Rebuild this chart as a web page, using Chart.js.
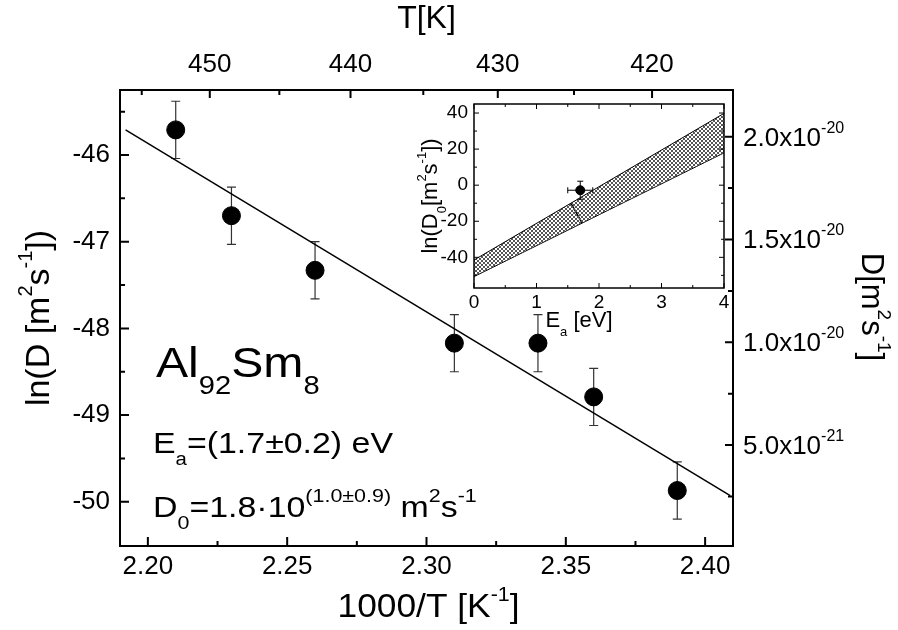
<!DOCTYPE html>
<html>
<head>
<meta charset="utf-8">
<script src="https://cdn.jsdelivr.net/npm/chart.js@4.4.0/dist/chart.umd.min.js"></script>
<style>
  html, body { margin: 0; padding: 0; background: #fff; }
  #wrap { position: relative; width: 898px; height: 630px; }
  #main { position: absolute; left: 0; top: 0; }
  #inset { position: absolute; left: 400px; top: 95px; }
</style>
</head>
<body>
<div id="wrap">
  <canvas id="main" width="898" height="630"></canvas>
  <canvas id="inset" width="335" height="250"></canvas>
</div>
<script>
// main plot: ln(D) vs 1000/T
const invT = [2.21, 2.23, 2.26, 2.31, 2.34, 2.36, 2.39];
const lnD = [-45.71, -46.70, -47.33, -48.17, -48.17, -48.79, -49.87];
const lnDErr = [0.33, 0.33, 0.33, 0.33, 0.33, 0.33, 0.33];
const fitX = [2.192, 2.409];
const fitY = [-45.71, -49.93];

const xTicks = [2.20, 2.25, 2.30, 2.35, 2.40];
const xMinor = [2.225, 2.275, 2.325, 2.375];
const yTicks = [-46, -47, -48, -49, -50];
const yMinor = [-45.5, -46.5, -47.5, -48.5, -49.5];
const topMajorT = [450, 440, 430, 420];
const topMinorT = [455, 445, 435, 425];
const rightTicks = [5, 10, 15, 20];        // units of 1e-21 m2/s
const rightMinor = [2.5, 7.5, 12.5, 17.5];

// inset: ln(D0) vs Ea
const bandX = [0, 4];
const bandUpper = [-41.5, 39.8];
const bandLower = [-50.7, 17.9];
const segX = [1.55, 1.73];
const segY = [-10.0, -21.0];
const insetEa = [1.7];
const insetLnD0 = [-2.8];
const insetEaErr = [0.2];
const insetLnD0Err = [5];
const insetXTicks = [0, 1, 2, 3, 4];
const insetXMinor = [0.5, 1.5, 2.5, 3.5];
const insetYTicks = [-40, -20, 0, 20, 40];
const insetYMinor = [-50, -30, -10, 10, 30];

const FAM = "'Liberation Sans', Arial, sans-serif";
Chart.defaults.font.family = FAM;
Chart.defaults.color = '#000';

const pts = function(xs, ys) {
  return xs.map((v, i) => ({ x: v, y: ys[i] }));
};

// text with sub/superscripts: parts = [[text, ''|'sup'|'sub'], ...]
const drawRich = function(ctx, parts, x, y, size, opts) {
  opts = opts || {};
  const small = Math.round(size * (opts.small || 0.6));
  const items = parts.map(p => {
    const kind = p[1] || '';
    const fs = kind ? small : size;
    ctx.font = fs + 'px ' + FAM;
    return { t: p[0], kind: kind, fs: fs, w: ctx.measureText(p[0]).width };
  });
  const total = items.reduce((a, b) => a + b.w, 0);
  ctx.save();
  ctx.translate(x, y);
  if (opts.rotate) ctx.rotate(opts.rotate);
  if (opts.sx) ctx.scale(opts.sx, 1);
  let cx = opts.align === 'center' ? -total / 2 : 0;
  const base = opts.vcenter ? size * 0.35 : 0;
  ctx.fillStyle = '#000';
  ctx.textAlign = 'left';
  ctx.textBaseline = 'alphabetic';
  items.forEach(it => {
    ctx.font = it.fs + 'px ' + FAM;
    let dy = 0;
    if (it.kind === 'sup') dy = -size * 0.5;
    if (it.kind === 'sub') dy = size * 0.4;
    ctx.fillText(it.t, cx, base + dy);
    cx += it.w;
  });
  ctx.restore();
};

// inward ticks along one side of the chart area
const sideTicks = function(ctx, area, side, pixels, len) {
  ctx.beginPath();
  pixels.forEach(p => {
    if (side === 'bottom') { ctx.moveTo(p, area.bottom); ctx.lineTo(p, area.bottom - len); }
    if (side === 'top') { ctx.moveTo(p, area.top); ctx.lineTo(p, area.top + len); }
    if (side === 'left') { ctx.moveTo(area.left, p); ctx.lineTo(area.left + len, p); }
    if (side === 'right') { ctx.moveTo(area.right, p); ctx.lineTo(area.right - len, p); }
  });
  ctx.stroke();
};

const fixSize = function(w, h) {
  return s => {
    if (w !== null) s.width = w;
    if (h !== null) s.height = h;
    s.paddingTop = 0; s.paddingBottom = 0; s.paddingLeft = 0; s.paddingRight = 0;
  };
};

const mainDecor = {
  id: 'mainDecor',
  beforeDatasetsDraw(chart) {
    const ctx = chart.ctx, x = chart.scales.x, y = chart.scales.y;
    ctx.save();
    ctx.strokeStyle = '#333';
    ctx.lineWidth = 1.2;
    ctx.beginPath();
    invT.forEach((t, i) => {
      const px = x.getPixelForValue(t);
      const top = y.getPixelForValue(lnD[i] + lnDErr[i]);
      const bot = y.getPixelForValue(lnD[i] - lnDErr[i]);
      ctx.moveTo(px, top); ctx.lineTo(px, bot);
      ctx.moveTo(px - 4.5, top); ctx.lineTo(px + 4.5, top);
      ctx.moveTo(px - 4.5, bot); ctx.lineTo(px + 4.5, bot);
    });
    ctx.stroke();
    ctx.restore();
  },
  afterDraw(chart) {
    const ctx = chart.ctx, a = chart.chartArea;
    const x = chart.scales.x, y = chart.scales.y, y1 = chart.scales.y1;
    ctx.save();
    ctx.strokeStyle = '#000';
    ctx.lineWidth = 2;
    ctx.strokeRect(a.left, a.top, a.right - a.left, a.bottom - a.top);
    sideTicks(ctx, a, 'bottom', xTicks.map(v => x.getPixelForValue(v)), 9);
    sideTicks(ctx, a, 'bottom', xMinor.map(v => x.getPixelForValue(v)), 5);
    sideTicks(ctx, a, 'top', topMajorT.map(t => x.getPixelForValue(1000 / t)), 8);
    sideTicks(ctx, a, 'top', topMinorT.map(t => x.getPixelForValue(1000 / t)), 5);
    sideTicks(ctx, a, 'left', yTicks.map(v => y.getPixelForValue(v)), 9);
    sideTicks(ctx, a, 'left', yMinor.map(v => y.getPixelForValue(v)), 5);
    sideTicks(ctx, a, 'right', rightTicks.map(v => y1.getPixelForValue(v)), 8);
    sideTicks(ctx, a, 'right', rightMinor.map(v => y1.getPixelForValue(v)), 5);

    // right axis labels, e.g. 2.0x10^-20
    y1.ticks.forEach(t => {
      const val = t.value * 1e-21;
      const ex = Math.floor(Math.log10(val) + 1e-9);
      const mant = val / Math.pow(10, ex);
      drawRich(ctx, [[mant.toFixed(1) + 'x10', ''], [String(ex), 'sup']],
        a.right + 10, y1.getPixelForValue(t.value) + 9, 26, { small: 0.6 });
    });

    // axis titles
    drawRich(ctx, [['ln(D [m', ''], ['2', 'sup'], ['s', ''], ['-1', 'sup'], ['])', '']],
      37, (a.top + a.bottom) / 2, 34, { align: 'center', rotate: -Math.PI / 2, vcenter: true });
    drawRich(ctx, [['1000/T [K', ''], ['-1', 'sup'], [']', '']],
      (a.left + a.right) / 2 + 2, 617, 33, { align: 'center', sx: 1.07 });
    drawRich(ctx, [['T[K]', '']], (a.left + a.right) / 2, 28, 32, { align: 'center' });
    drawRich(ctx, [['D[m', ''], ['2', 'sup'], ['s', ''], ['-1', 'sup'], [']', '']],
      873, 307, 31, { align: 'center', rotate: Math.PI / 2, vcenter: true });

    // annotations
    drawRich(ctx, [['Al', ''], ['92', 'sub'], ['Sm', ''], ['8', 'sub']], 156, 377, 43, { sx: 1.12 });
    drawRich(ctx, [['E', ''], ['a', 'sub'], ['=(1.7\u00b10.2) eV', '']], 153, 453, 30, { sx: 1.13 });
    drawRich(ctx, [['D', ''], ['0', 'sub'], ['=1.8\u00b710', ''], ['(1.0\u00b10.9)', 'sup'],
      [' m', ''], ['2', 'sup'], ['s', ''], ['-1', 'sup']], 153, 517, 30, { sx: 1.13, small: 0.63 });
    ctx.restore();
  }
};

const axisBase = {
  type: 'linear',
  grid: { display: false, drawTicks: false },
  border: { display: false },
};

new Chart(document.getElementById('main'), {
  type: 'scatter',
  data: {
    datasets: [
      {
        label: 'fit',
        type: 'line',
        data: pts(fitX, fitY),
        borderColor: '#000',
        borderWidth: 1.5,
        pointRadius: 0,
        fill: false,
      },
      {
        label: 'ln D',
        data: pts(invT, lnD),
        pointRadius: 9,
        pointHoverRadius: 9,
        backgroundColor: '#000',
        borderColor: '#000',
      },
    ],
  },
  options: {
    responsive: false,
    animation: false,
    events: [],
    layout: { padding: 0 },
    plugins: { legend: { display: false }, tooltip: { enabled: false } },
    scales: {
      x: Object.assign({}, axisBase, {
        position: 'bottom', min: 2.19, max: 2.41,
        ticks: { font: { size: 26 }, padding: 5, autoSkip: false, maxRotation: 0, callback: v => v.toFixed(2) },
        afterBuildTicks: s => { s.ticks = xTicks.map(v => ({ value: v })); },
        afterFit: fixSize(null, 84),
      }),
      xTop: Object.assign({}, axisBase, {
        position: 'top', min: 2.19, max: 2.41,
        ticks: { font: { size: 26 }, padding: 10, autoSkip: false, maxRotation: 0, callback: v => String(Math.round(1000 / v)) },
        afterBuildTicks: s => { s.ticks = topMajorT.map(t => ({ value: 1000 / t })); },
        afterFit: fixSize(null, 90),
      }),
      y: Object.assign({}, axisBase, {
        position: 'left', min: -50.51, max: -45.25,
        ticks: { font: { size: 26 }, padding: 10, autoSkip: false, callback: v => String(v) },
        afterBuildTicks: s => { s.ticks = yTicks.map(v => ({ value: v })); },
        afterFit: fixSize(120, null),
      }),
      y1: Object.assign({}, axisBase, {
        position: 'right', min: 0.093, max: 22.27,
        ticks: { display: false },
        afterBuildTicks: s => { s.ticks = rightTicks.map(v => ({ value: v })); },
        afterFit: fixSize(165, null),
      }),
    },
  },
  plugins: [mainDecor],
});

// ---- inset ----
const makeHatch = function(ctx) {
  const c = document.createElement('canvas');
  c.width = 4; c.height = 4;
  const g = c.getContext('2d');
  g.fillStyle = '#555';
  for (let i = 0; i < 4; i++) {
    g.fillRect(i, i, 1, 1);
    g.fillRect(i, 3 - i, 1, 1);
  }
  return ctx.createPattern(c, 'repeat');
};

const insetCanvas = document.getElementById('inset');
const hatch = makeHatch(insetCanvas.getContext('2d'));

const insetDecor = {
  id: 'insetDecor',
  afterDatasetsDraw(chart) {
    const ctx = chart.ctx, x = chart.scales.x, y = chart.scales.y;
    ctx.save();
    ctx.strokeStyle = '#000';
    ctx.lineWidth = 1;
    ctx.beginPath();
    insetEa.forEach((e, i) => {
      const px = x.getPixelForValue(e), py = y.getPixelForValue(insetLnD0[i]);
      const l = x.getPixelForValue(e - insetEaErr[i]), r = x.getPixelForValue(e + insetEaErr[i]);
      const t = y.getPixelForValue(insetLnD0[i] + insetLnD0Err[i]);
      const b = y.getPixelForValue(insetLnD0[i] - insetLnD0Err[i]);
      ctx.moveTo(l, py); ctx.lineTo(r, py);
      ctx.moveTo(l, py - 3); ctx.lineTo(l, py + 3);
      ctx.moveTo(r, py - 3); ctx.lineTo(r, py + 3);
      ctx.moveTo(px, t); ctx.lineTo(px, b);
      ctx.moveTo(px - 3, t); ctx.lineTo(px + 3, t);
      ctx.moveTo(px - 3, b); ctx.lineTo(px + 3, b);
    });
    ctx.stroke();
    ctx.restore();
  },
  afterDraw(chart) {
    const ctx = chart.ctx, a = chart.chartArea, x = chart.scales.x, y = chart.scales.y;
    ctx.save();
    ctx.strokeStyle = '#000';
    ctx.lineWidth = 1.5;
    ctx.strokeRect(a.left, a.top, a.right - a.left, a.bottom - a.top);
    ctx.lineWidth = 1;
    ['bottom', 'top'].forEach(s => {
      sideTicks(ctx, a, s, insetXTicks.map(v => x.getPixelForValue(v)), 5);
      sideTicks(ctx, a, s, insetXMinor.map(v => x.getPixelForValue(v)), 3);
    });
    ['left', 'right'].forEach(s => {
      sideTicks(ctx, a, s, insetYTicks.map(v => y.getPixelForValue(v)), 5);
      sideTicks(ctx, a, s, insetYMinor.map(v => y.getPixelForValue(v)), 3);
    });
    drawRich(ctx, [['ln(D', ''], ['0', 'sub'], ['[m', ''], ['2', 'sup'], ['s', ''], ['-1', 'sup'], ['])', '']],
      29, (a.top + a.bottom) / 2, 22, { align: 'center', rotate: -Math.PI / 2, vcenter: true });
    drawRich(ctx, [['E', ''], ['a', 'sub'], [' [eV]', '']], 179, 232, 22, { align: 'center' });
    ctx.restore();
  }
};

new Chart(insetCanvas, {
  type: 'scatter',
  data: {
    datasets: [
      {
        label: 'upper',
        type: 'line',
        data: pts(bandX, bandUpper),
        borderColor: '#000',
        borderWidth: 1,
        pointRadius: 0,
        backgroundColor: hatch,
        fill: '+1',
      },
      {
        label: 'lower',
        type: 'line',
        data: pts(bandX, bandLower),
        borderColor: '#000',
        borderWidth: 1,
        pointRadius: 0,
        fill: false,
      },
      {
        label: 'segment',
        type: 'line',
        data: pts(segX, segY),
        borderColor: '#000',
        borderWidth: 1.5,
        pointRadius: 0,
        fill: false,
      },
      {
        label: 'D0',
        data: pts(insetEa, insetLnD0),
        pointRadius: 4.5,
        pointHoverRadius: 4.5,
        backgroundColor: '#000',
        borderColor: '#000',
      },
    ],
  },
  options: {
    responsive: false,
    animation: false,
    events: [],
    layout: { padding: { top: 9, right: 11, left: 0, bottom: 0 } },
    plugins: { legend: { display: false }, tooltip: { enabled: false } },
    scales: {
      x: Object.assign({}, axisBase, {
        position: 'bottom', min: 0, max: 4,
        ticks: { font: { size: 19 }, padding: 3, autoSkip: false, maxRotation: 0 },
        afterBuildTicks: s => { s.ticks = insetXTicks.map(v => ({ value: v })); },
        afterFit: fixSize(null, 57),
      }),
      y: Object.assign({}, axisBase, {
        position: 'left', min: -57, max: 45,
        ticks: { font: { size: 19 }, padding: 6, autoSkip: false },
        afterBuildTicks: s => { s.ticks = insetYTicks.map(v => ({ value: v })); },
        afterFit: fixSize(74, null),
      }),
    },
  },
  plugins: [insetDecor],
});
</script>
</body>
</html>
